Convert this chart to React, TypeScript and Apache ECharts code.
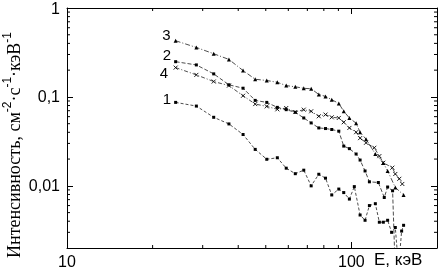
import React, { useEffect, useRef } from 'react';
import * as echarts from 'echarts';

// Energies (keV) and intensities
const energies1 = [24.1, 28.5, 32.8, 37.1, 41.6, 45.9, 50.4, 54.9, 59.0, 63.5, 68.0, 72.2, 76.8, 81.1, 85.3, 90.3, 94.0, 98.4, 102.4, 107.3, 111.7, 115.7, 121.4, 125.4, 129.5, 134.1, 138.5, 142.7, 146.5, 150.2, 152.6];
const intensity1 = [0.0868, 0.0789, 0.059, 0.0497, 0.0378, 0.0257, 0.0199, 0.0207, 0.0158, 0.0137, 0.0150, 0.0100, 0.0135, 0.0122, 0.0079, 0.0092, 0.0084, 0.0071, 0.0098, 0.0047, 0.0041, 0.0060, 0.0063, 0.0039, 0.0039, 0.0041, 0.0030, 0.0034, 0.0012, 0.0031, 0.0036];

const energies2 = [24.1, 28.5, 32.8, 37.1, 41.6, 45.9, 50.4, 54.9, 59.0, 63.5, 68.0, 72.2, 76.8, 81.1, 85.3, 90.3, 94.0, 98.4, 103.9, 107.3, 111.7, 115.7, 124.4, 130.5, 134.1, 139.6, 143.1];
const intensity2 = [0.249, 0.229, 0.1816, 0.1369, 0.1253, 0.0914, 0.0868, 0.0763, 0.0719, 0.0671, 0.0580, 0.0510, 0.0448, 0.0441, 0.0430, 0.0412, 0.0280, 0.0262, 0.0228, 0.0195, 0.0147, 0.0111, 0.0109, 0.0074, 0.0097, 0.0088, 0.0008];

const energies3 = [24.1, 28.5, 32.8, 37.1, 41.6, 45.9, 50.4, 54.9, 59.0, 63.5, 68.0, 72.2, 76.8, 81.1, 85.3, 90.3, 94.0, 98.4, 103.9, 107.3, 112.6, 121.4, 129.5, 134.1, 142.7, 152.6];
const intensity3 = [0.428, 0.360, 0.306, 0.264, 0.198, 0.158, 0.153, 0.146, 0.134, 0.130, 0.125, 0.1235, 0.1066, 0.1013, 0.0930, 0.0846, 0.0689, 0.0580, 0.0506, 0.0401, 0.0335, 0.0228, 0.0181, 0.0147, 0.0096, 0.0079];

const energies4 = [24.1, 28.5, 32.8, 37.1, 41.6, 45.9, 50.4, 54.9, 59.0, 63.5, 68.0, 72.2, 76.8, 81.1, 85.3, 90.3, 94.0, 98.4, 103.9, 107.3, 112.6, 120.4, 125.4, 129.5, 139.3, 142.7, 147.4, 151.0];
const intensity4 = [0.2136, 0.177, 0.149, 0.134, 0.1031, 0.0831, 0.0783, 0.0725, 0.0750, 0.0676, 0.0719, 0.0689, 0.0606, 0.0633, 0.0590, 0.0580, 0.0519, 0.0448, 0.0401, 0.0344, 0.0305, 0.0268, 0.0216, 0.0182, 0.0160, 0.0136, 0.0120, 0.0105];

const seriesNames = ['1', '2', '3', '4'];
const xTickLabels = ['10', '100'];
const yTickLabels = ['0,01', '0,1', '1'];
const xMinorTicks = [20, 30, 40, 50, 60, 70, 80, 90];
const yMinorTicks = [0.003, 0.004, 0.005, 0.006, 0.007, 0.008, 0.009, 0.02, 0.03, 0.04, 0.05, 0.06, 0.07, 0.08, 0.09, 0.2, 0.3, 0.4, 0.5, 0.6, 0.7, 0.8, 0.9];

const X_MIN = 10, X_MAX = 200, Y_MIN = 0.002, Y_MAX = 1;

const decadeLabel = (labels: string[], firstExp: number) => (v: number) => {
  const k = Math.log10(v);
  const r = Math.round(k);
  if (Math.abs(k - r) > 1e-6) return '';
  return labels[r - firstExp] ?? '';
};

export default function App() {
  const ref = useRef<HTMLDivElement>(null);
  useEffect(() => {
    const chart = echarts.init(ref.current!, null, { renderer: 'svg' });
    const black = '#000';
    const mkLine = (E: number[], I: number[], name: string, symbol: string, size: number, dash: number[], offY: number, itemStyle: any) => ({
      type: 'line',
      name,
      data: E.map((e, i) => i === 0
        ? { value: [e, I[i]], label: { show: true, formatter: name, position: 'left', distance: 3, offset: [0, offY], fontSize: 15, color: black, fontFamily: 'Liberation Sans' } }
        : [e, I[i]]),
      symbol,
      symbolSize: size,
      showSymbol: true,
      showAllSymbol: true,
      lineStyle: { color: black, width: 0.7, type: dash },
      itemStyle,
      label: { show: false },
      clip: true,
      silent: true,
      z: 3,
    });
    const tickSeries = (data: number[][], horizontal: boolean) => ({
      type: 'custom',
      coordinateSystem: 'cartesian2d',
      silent: true,
      clip: false,
      data,
      renderItem: (_p: any, api: any) => {
        const v = api.value(horizontal ? 1 : 0);
        if (horizontal) {
          const a = api.coord([X_MIN, v]);
          const b = api.coord([X_MAX, v]);
          return {
            type: 'group', children: [
              { type: 'line', shape: { x1: a[0], y1: a[1], x2: a[0] + 3, y2: a[1] }, style: { stroke: black, lineWidth: 1 } },
              { type: 'line', shape: { x1: b[0], y1: b[1], x2: b[0] - 3, y2: b[1] }, style: { stroke: black, lineWidth: 1 } },
            ],
          };
        }
        const a = api.coord([v, Y_MIN]);
        const b = api.coord([v, Y_MAX]);
        return {
          type: 'group', children: [
            { type: 'line', shape: { x1: a[0], y1: a[1], x2: a[0], y2: a[1] - 3 }, style: { stroke: black, lineWidth: 1 } },
            { type: 'line', shape: { x1: b[0], y1: b[1], x2: b[0], y2: b[1] + 3 }, style: { stroke: black, lineWidth: 1 } },
          ],
        };
      },
    });
    const axisBase = {
      type: 'log', logBase: 10,
      axisLine: { show: true, lineStyle: { color: black, width: 1 } },
      axisTick: { show: true, inside: true, length: 6, lineStyle: { color: black } },
      splitLine: { show: false },
      minorTick: { show: false },
    };
    chart.setOption({
      animation: false,
      grid: { left: 67, top: 6, right: 1, bottom: 25, containLabel: false },
      xAxis: [
        {
          ...axisBase, position: 'bottom', min: X_MIN, max: X_MAX,
          axisLabel: { show: true, margin: 5, fontSize: 16, color: black, fontFamily: 'Liberation Sans', showMaxLabel: false, formatter: decadeLabel(xTickLabels, 1) },
        },
        { ...axisBase, position: 'top', min: X_MIN, max: X_MAX, axisLabel: { show: false } },
      ],
      yAxis: [
        {
          ...axisBase, position: 'left', min: Y_MIN, max: Y_MAX,
          axisLabel: { show: true, margin: 7, fontSize: 16, color: black, fontFamily: 'Liberation Sans', showMinLabel: false, formatter: decadeLabel(yTickLabels, -2) },
        },
        { ...axisBase, position: 'right', min: Y_MIN, max: Y_MAX, axisLabel: { show: false } },
      ],
      series: [
        mkLine(energies1, intensity1, seriesNames[0], 'rect', 3, [3, 2], -4, { color: black }),
        mkLine(energies2, intensity2, seriesNames[1], 'rect', 3, [4, 2], -7, { color: black }),
        mkLine(energies3, intensity3, seriesNames[2], 'triangle', 4, [5, 2, 1, 2], -6, { color: black }),
        mkLine(energies4, intensity4, seriesNames[3], 'path://M0,0L10,10M10,0L0,10', 4, [4, 2, 1, 2], 5, { color: 'none', borderColor: black, borderWidth: 0.9 }),
        tickSeries(xMinorTicks.map(v => [v, Y_MIN]), false),
        tickSeries(yMinorTicks.map(v => [X_MIN, v]), true),
      ],
      graphic: [
        {
          type: 'text', x: 12, y: 145, rotation: Math.PI / 2,
          style: {
            text: '{a|Интенсивность, см}{s|-2}{a|·с}{s|-1}{a|·кэВ}{s|-1}',
            align: 'center', verticalAlign: 'middle', fill: black,
            rich: {
              a: { fontFamily: 'Liberation Serif', fontSize: 18, lineHeight: 22, verticalAlign: 'bottom', fill: black },
              s: { fontFamily: 'Liberation Sans', fontSize: 12, lineHeight: 22, verticalAlign: 'top', fill: black },
            },
          },
        },
        {
          type: 'text', left: 374, top: 251,
          style: { text: 'E, кэВ', fontFamily: 'Liberation Sans', fontSize: 17, fill: black },
        },
      ],
    });
    return () => chart.dispose();
  }, []);
  return <div ref={ref} style={{ position: 'fixed', left: 0, top: 0, width: 438, height: 273 }} />;
}
